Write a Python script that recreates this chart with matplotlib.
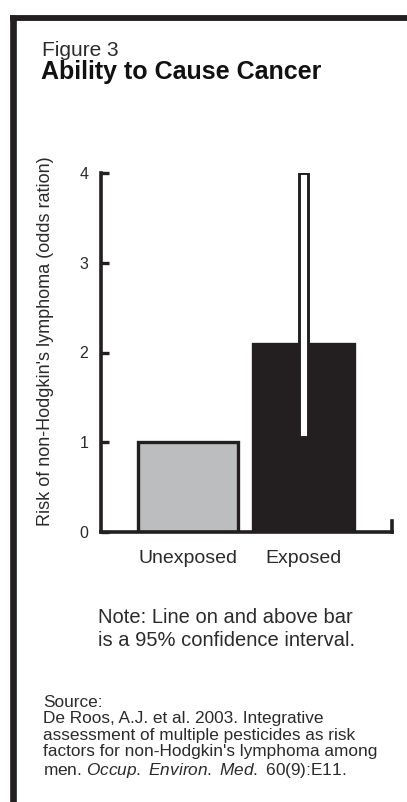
import matplotlib
matplotlib.use("Agg")
import matplotlib.pyplot as plt
from matplotlib.lines import Line2D

# data
groups = ["Unexposed", "Exposed"]
odds_ratio = [1.0, 2.1]
ci_low = 1.06
ci_high = 4.0
yticks = [0, 1, 2, 3, 4]

title_small = "Figure 3"
title_big = "Ability to Cause Cancer"
ylabel = "Risk of non-Hodgkin's lymphoma (odds ration)"
note_lines = ["Note: Line on and above bar", "is a 95% confidence interval."]
source_lines = [
    "Source:",
    "De Roos, A.J. et al. 2003. Integrative",
    "assessment of multiple pesticides as risk",
    "factors for non-Hodgkin's lymphoma among",
    r"men. $\mathit{Occup.}$ $\mathit{Environ.}$ $\mathit{Med.}$ 60(9):E11.",
]

plt.rcParams["font.family"] = ["Liberation Sans", "DejaVu Sans"]
plt.rcParams["mathtext.fontset"] = "custom"
plt.rcParams["mathtext.rm"] = "Liberation Sans"
plt.rcParams["mathtext.it"] = "Liberation Sans:italic"

W, H = 407, 802
ink = "#231f20"
txt = "#2b2b2b"


def fx(x):
    return x / W


def fy(y):
    return 1 - y / H


fig = plt.figure(figsize=(W / 100, H / 100), dpi=100)

# heavy frame on top and left
fig.add_artist(Line2D([fx(10), fx(W)], [fy(18), fy(18)], color=ink, lw=4.2,
                      solid_capstyle="butt"))
fig.add_artist(Line2D([fx(13.5), fx(13.5)], [fy(15), fy(H)], color=ink, lw=4.8,
                      solid_capstyle="butt"))

# plot area, pixel box 101..392 x 173..532
ax = fig.add_axes([fx(101), fy(532), (392 - 101) / W, (532 - 173) / H])
x = [0, 1]
ax.bar(x, odds_ratio, width=0.87, color=["#bcbdbf", ink], edgecolor=ink,
       linewidth=2.4, zorder=2)
ax.bar(1, ci_high - ci_low, bottom=ci_low, width=0.085, color="white",
       edgecolor=ink, linewidth=2.1, zorder=3)

ax.set_xlim(-0.753, 1.766)
ax.set_ylim(0, 4)
ax.set_yticks(yticks)
ax.set_xticks(x)
ax.set_xticklabels(groups)
for s in ["top", "right"]:
    ax.spines[s].set_visible(False)
for s in ["left", "bottom"]:
    ax.spines[s].set_linewidth(2.6)
    ax.spines[s].set_color(ink)
    ax.spines[s].set_capstyle("projecting")
ax.tick_params(axis="y", direction="in", length=6, width=2.4, color=ink,
               labelsize=11.5, pad=9, labelcolor=txt)
ax.tick_params(axis="x", length=0, labelsize=14, pad=13, labelcolor=txt)
# small upturn at the right end of the baseline
ax.plot([1, 1], [0, 0.03], transform=ax.transAxes, color=ink, lw=2.6,
        clip_on=False, solid_capstyle="projecting")

fig.text(fx(46), fy(341), ylabel, rotation=90, ha="center", va="center",
         fontsize=13, color=txt)

fig.text(fx(42), fy(56.5), title_small, fontsize=15, color=txt, va="baseline")
fig.text(fx(41), fy(79.5), title_big, fontsize=18, fontweight="bold",
         color="#111111", va="baseline")

fig.text(fx(98), fy(608), "\n".join(note_lines), fontsize=14.5, color=txt,
         va="top", linespacing=1.25)

fig.text(fx(43), fy(695), "\n".join(source_lines), fontsize=12.4, color=txt,
         va="top", linespacing=1.12)

fig.savefig("out.png", dpi=100, facecolor="white")
